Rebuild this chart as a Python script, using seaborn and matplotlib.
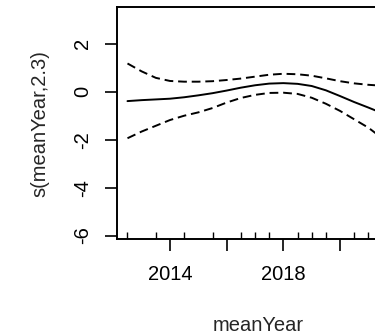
"""GAM smooth term plot for meanYear with 2 SE bands and data rug."""

import matplotlib
matplotlib.use("Agg")
import matplotlib.pyplot as plt
import pandas as pd
import seaborn as sns

# smooth term
years = [2012.5, 2013.0, 2013.5, 2014.0, 2014.5, 2015.0, 2015.5, 2016.0, 2016.5, 2017.0,
         2017.5, 2018.0, 2018.5, 2019.0, 2019.5, 2020.0, 2020.5, 2021.0, 2021.5, 2021.75]
fit = [-0.39, -0.35, -0.32, -0.29, -0.23, -0.15, -0.06, 0.05, 0.17, 0.27,
       0.34, 0.36, 0.33, 0.24, 0.06, -0.18, -0.43, -0.66, -0.90, -1.03]
upper = [1.18, 0.85, 0.58, 0.45, 0.42, 0.42, 0.44, 0.49, 0.55, 0.63,
         0.71, 0.75, 0.73, 0.67, 0.56, 0.44, 0.35, 0.29, 0.25, 0.23]
lower = [-1.94, -1.66, -1.42, -1.18, -1.00, -0.86, -0.68, -0.45, -0.26, -0.13,
         -0.05, -0.04, -0.09, -0.25, -0.50, -0.80, -1.15, -1.50, -1.95, -2.20]

# observed meanYear values (rug)
rug_years = [2012.5, 2013.5, 2014.5, 2015.5, 2016.5, 2017.0, 2017.5, 2018.5,
             2019.0, 2019.5, 2020.5, 2021.0, 2021.5, 2021.75]

x_ticks = [2014, 2016, 2018, 2020, 2022]
x_tick_labels = ["2014", "", "2018", "", ""]
y_ticks = [-6, -4, -2, 0, 2]


def main() -> None:
    sns.set_theme(style="ticks")
    plt.rcParams["font.family"] = ["Liberation Sans", "DejaVu Sans"]

    df = pd.DataFrame({"meanYear": years, "fit": fit, "upper": upper, "lower": lower})

    fig = plt.figure(figsize=(3.75, 3.36), dpi=100)
    ax = fig.add_axes([0.312, 0.289, 0.755, 0.689])

    sns.lineplot(data=df, x="meanYear", y="fit", ax=ax, color="black", lw=1.4)
    for col in ("upper", "lower"):
        sns.lineplot(data=df, x="meanYear", y=col, ax=ax, color="black", lw=1.4,
                     linestyle=(0, (4.5, 2.5)))
    sns.rugplot(x=rug_years, ax=ax, height=0.03, color="black", lw=1.2)

    ax.set_xlim(2012.13, 2022.12)
    ax.set_ylim(-6.14, 3.52)
    ax.set_xticks(x_ticks)
    ax.set_xticklabels(x_tick_labels)
    ax.set_yticks(y_ticks)
    ax.set_yticklabels([str(v) for v in y_ticks], rotation=90, va="center")
    ax.tick_params(axis="both", length=8.6, width=1.2, color="black",
                   labelsize=14.5, labelcolor="black")
    ax.tick_params(axis="x", pad=10.5)
    ax.tick_params(axis="y", pad=9.5)
    for side in ("left", "bottom", "top", "right"):
        ax.spines[side].set_visible(True)
        ax.spines[side].set_color("black")
        ax.spines[side].set_linewidth(1.4)

    ax.set_xlabel("meanYear", fontsize=14.5, labelpad=23)
    ax.set_ylabel("s(meanYear,2.3)", fontsize=14.5, labelpad=17)

    fig.savefig("out.png", dpi=100)
    plt.close(fig)


if __name__ == "__main__":
    main()
